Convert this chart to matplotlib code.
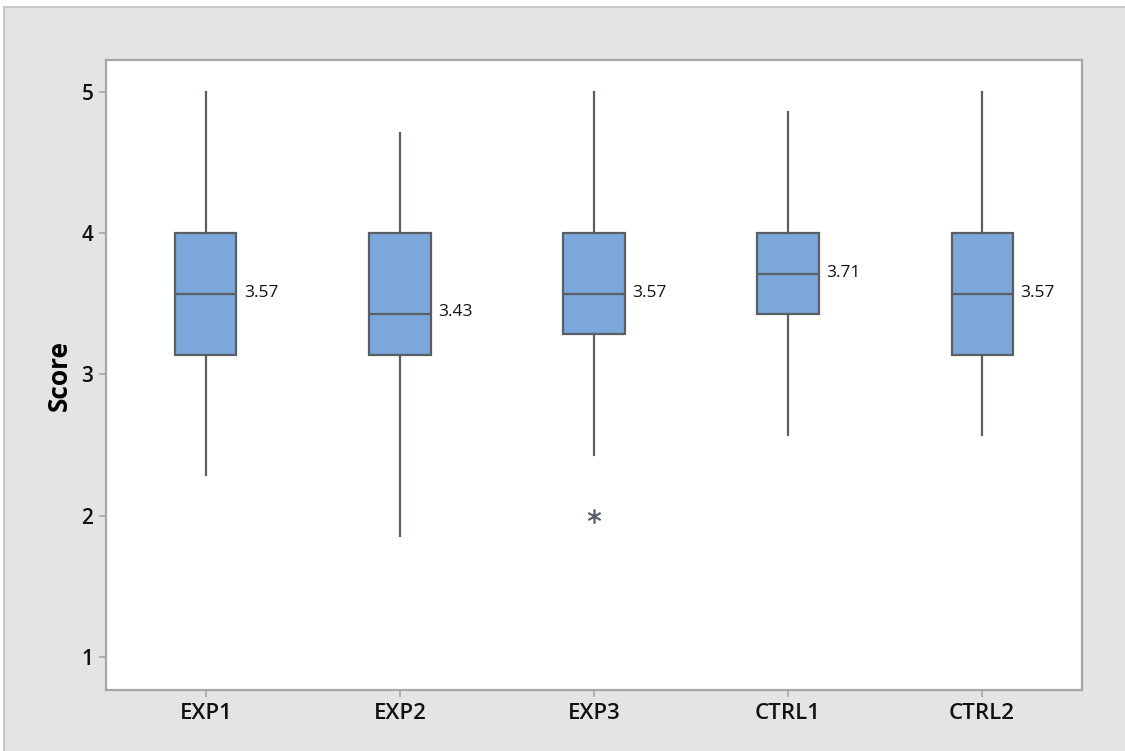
import matplotlib
matplotlib.use("Agg")
import matplotlib.pyplot as plt
from matplotlib.patches import Rectangle

plt.rcParams['font.family'] = ['Open Sans', 'DejaVu Sans']

groups = ["EXP1", "EXP2", "EXP3", "CTRL1", "CTRL2"]
whisker_low = [2.29, 1.86, 2.43, 2.57, 2.57]
q1 = [3.14, 3.14, 3.29, 3.43, 3.14]
median = [3.57, 3.43, 3.57, 3.71, 3.57]
q3 = [4.00, 4.00, 4.00, 4.00, 4.00]
whisker_high = [5.00, 4.71, 5.00, 4.86, 5.00]
outliers = [[], [], [2.00], [], []]
y_ticks = [1, 2, 3, 4, 5]

box_fill = "#7ba7da"
edge = "#5a5f66"
axis_grey = "#a6a6a6"
panel_grey = "#e4e4e4"

fig = plt.figure(figsize=(11.25, 7.51), dpi=100, facecolor="white")
# grey background panel with a thin light frame on its top and left edges
fig.patches.append(Rectangle((3.5 / 1125, -0.01), 1.02, 1 - 6.5 / 751 + 0.01,
                             transform=fig.transFigure, facecolor=panel_grey,
                             edgecolor="#c8c8c8", linewidth=1.5, zorder=-10))

ax = fig.add_axes([0.0942, 0.0812, 0.8676, 0.8388])
ax.set_zorder(1)
ax.set_facecolor("white")

stats = []
for i, g in enumerate(groups):
    stats.append(dict(label=g, whislo=whisker_low[i], q1=q1[i], med=median[i],
                      q3=q3[i], whishi=whisker_high[i], fliers=outliers[i]))

positions = list(range(1, len(groups) + 1))
ax.bxp(stats, positions=positions, widths=0.315, patch_artist=True, showcaps=False,
       boxprops=dict(facecolor=box_fill, edgecolor=edge, linewidth=1.6),
       medianprops=dict(color=edge, linewidth=1.6),
       whiskerprops=dict(color=edge, linewidth=1.6),
       flierprops=dict(marker=(6, 2, 0), markersize=10, markeredgecolor=edge,
                       markeredgewidth=1.2, markerfacecolor=edge))

for p, m in zip(positions, median):
    ax.text(p + 0.315 / 2 + 0.04, m + 0.01, f"{m:.2f}", fontsize=12.5,
            va="center", ha="left", color="#111111")

ax.set_xlim(0.485, 5.515)
ax.set_ylim(0.766, 5.226)
ax.set_yticks(y_ticks)
ax.set_xticks(positions)
ax.set_xticklabels(groups)
ax.set_ylabel("Score", fontsize=19, fontweight="bold", labelpad=6)

for lab in ax.get_yticklabels():
    lab.set_fontsize(15)
    lab.set_fontweight("semibold")
    lab.set_color("#111111")
for lab in ax.get_xticklabels():
    lab.set_fontsize(16)
    lab.set_fontweight("semibold")
    lab.set_color("#111111")

ax.tick_params(axis="both", direction="out", length=5, width=1.2, color=axis_grey, pad=4)
for s in ax.spines.values():
    s.set_color(axis_grey)
    s.set_linewidth(1.6)

fig.savefig("out.png", dpi=100, facecolor=fig.get_facecolor())
